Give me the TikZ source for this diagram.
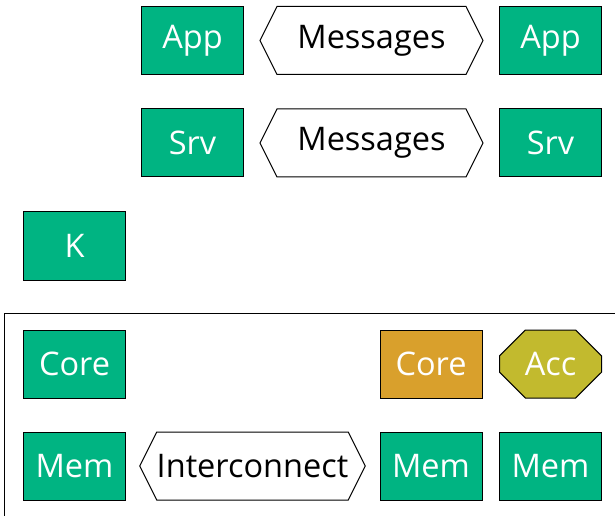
\documentclass[tikz,border=0pt]{standalone}
\usepackage{fontspec}
\setmainfont{Open Sans}
\usetikzlibrary{shapes.symbols,shapes.misc}
\definecolor{cgreen}{RGB}{0,180,130}
\definecolor{corange}{RGB}{217,160,44}
\definecolor{colive}{RGB}{194,186,46}
\tikzset{
  box/.style={draw=black, line width=1bp, fill=cgreen, text=white, minimum width=102bp, minimum height=68bp, inner sep=0pt, font=\fontsize{32.5bp}{36bp}\selectfont},
  orbox/.style={box, fill=corange},
  accbox/.style={box, fill=colive, chamfered rectangle, chamfered rectangle xsep=14bp, chamfered rectangle ysep=14bp},
  hexa/.style={draw=black, line width=1bp, fill=white, text=black, signal, signal to=west and east, signal pointer angle=127, minimum height=68bp, inner sep=0pt, font=\fontsize{32.5bp}{36bp}\selectfont},
}
\begin{document}
\begin{tikzpicture}[x=1bp,y=-1bp]
\useasboundingbox (0,0) rectangle (615,516);
\begin{scope}
\clip (0,0) rectangle (615,516);
\draw[line width=1bp] (4.5,313) rectangle (640,540);
\end{scope}
\node[box] (app1) at (192.5,40.5) {App};
\node[hexa, minimum width=223bp] (msg1) at (371.5,40.5) {Messages};
\node[box] (app2) at (550.5,40.5) {App};
\node[box] (srv1) at (192.5,143) {Srv};
\node[hexa, minimum width=223bp] (msg2) at (371.5,143) {Messages};
\node[box] (srv2) at (550.5,143) {Srv};
\node[box] (k) at (74.5,246) {K};
\node[box] (core1) at (74.5,364) {Core};
\node[orbox] (core2) at (431,364) {Core};
\node[accbox] (acc) at (550.5,364) {Acc};
\node[box] (mem1) at (74.5,466) {Mem};
\node[hexa, minimum width=221bp] (ic) at (252.5,466) {Interconnect};
\node[box] (mem2) at (431,466) {Mem};
\node[box] (mem3) at (550.5,466) {Mem};
\end{tikzpicture}
\end{document}
